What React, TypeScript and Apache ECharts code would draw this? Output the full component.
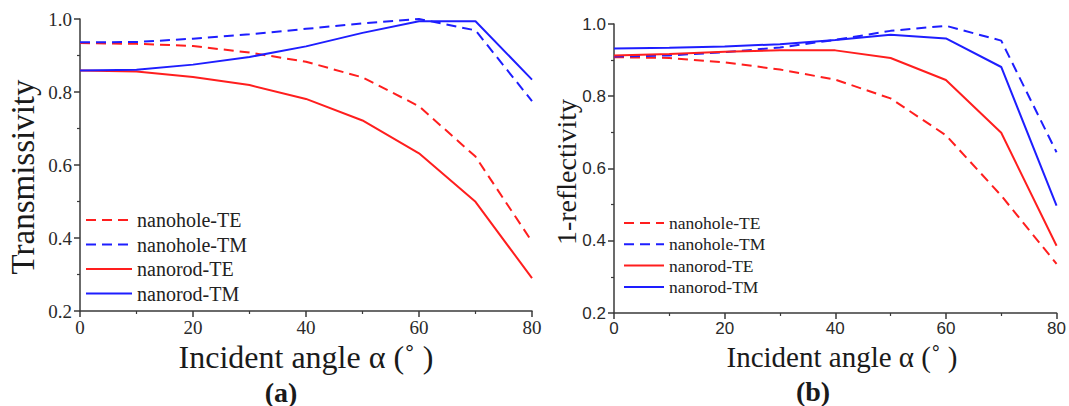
import React, { useEffect, useRef } from "react";
import * as echarts from "echarts";

const angles = [0, 10, 20, 30, 40, 50, 60, 70, 80];
const seriesNames = ["nanohole-TE", "nanohole-TM", "nanorod-TE", "nanorod-TM"];

// (a) Transmissivity
const aHoleTE = [0.934, 0.932, 0.926, 0.908, 0.883, 0.84, 0.761, 0.623, 0.39];
const aHoleTM = [0.936, 0.937, 0.946, 0.958, 0.973, 0.988, 1.0, 0.969, 0.775];
const aRodTE = [0.859, 0.856, 0.841, 0.819, 0.781, 0.722, 0.632, 0.499, 0.29];
const aRodTM = [0.859, 0.861, 0.875, 0.896, 0.925, 0.962, 0.994, 0.994, 0.834];

// (b) 1-reflectivity
const bHoleTE = [0.908, 0.906, 0.894, 0.874, 0.846, 0.794, 0.692, 0.525, 0.336];
const bHoleTM = [0.91, 0.913, 0.922, 0.935, 0.956, 0.981, 0.995, 0.954, 0.645];
const bRodTE = [0.913, 0.917, 0.923, 0.927, 0.927, 0.906, 0.845, 0.699, 0.386];
const bRodTM = [0.932, 0.934, 0.938, 0.944, 0.956, 0.97, 0.96, 0.881, 0.497];

const xTicks = [0, 20, 40, 60, 80];
const yTicks = [0.2, 0.4, 0.6, 0.8, 1.0];

const RED = "#ff1e1e";
const BLUE = "#1e1eff";
const AXIS = "#3a3a3a";
const SERIF = "'Liberation Serif', 'Times New Roman', serif";
const SANS = "'Liberation Sans', Arial, sans-serif";

export default function App() {
  const ref = useRef<HTMLDivElement>(null);
  useEffect(() => {
    if (!ref.current) return;
    const chart = echarts.init(ref.current, undefined, { renderer: "svg" });

    const pair = (vals: number[]) => angles.map((a, i) => [a, vals[i]]);
    const styles = [
      { color: RED, type: [10, 6] as any },
      { color: BLUE, type: [10, 6] as any },
      { color: RED, type: "solid" as any },
      { color: BLUE, type: "solid" as any },
    ];
    const mk = (name: string, vals: number[], k: number, g: number) => ({
      name,
      type: "line",
      xAxisIndex: g,
      yAxisIndex: g,
      data: pair(vals),
      symbol: "none",
      showSymbol: false,
      color: styles[k].color,
      itemStyle: { color: styles[k].color, opacity: 0 },
      lineStyle: { color: styles[k].color, width: 2, type: styles[k].type, opacity: 1 },
    });

    const xAxisBase = (g: number, font: string, size: number) => ({
      gridIndex: g,
      type: "value",
      min: 0,
      max: 80,
      interval: 20,
      splitLine: { show: false },
      axisLine: { show: true, onZero: false, lineStyle: { color: AXIS, width: 1.5 } },
      axisTick: { show: true, length: 6, inside: false, lineStyle: { color: AXIS, width: 1.5 } },
      minorTick: { show: true, splitNumber: 2, length: 3, lineStyle: { color: AXIS, width: 1.2 } },
      axisLabel: {
        margin: 7,
        fontFamily: font,
        fontSize: size,
        color: "#2a2a2a",
        formatter: (v: number) => (xTicks.includes(v) ? String(v) : ""),
      },
    });
    const yAxisBase = (g: number, font: string, size: number) => ({
      gridIndex: g,
      type: "value",
      min: 0.2,
      max: 1.0,
      interval: 0.2,
      splitLine: { show: false },
      axisLine: { show: true, onZero: false, lineStyle: { color: AXIS, width: 1.5 } },
      axisTick: { show: true, length: 6, inside: false, lineStyle: { color: AXIS, width: 1.5 } },
      minorTick: { show: true, splitNumber: 2, length: 3, lineStyle: { color: AXIS, width: 1.2 } },
      axisLabel: {
        margin: 8,
        fontFamily: font,
        fontSize: size,
        color: "#2a2a2a",
        formatter: (v: number) => {
          const t = yTicks.find((y) => Math.abs(y - v) < 1e-6);
          return t !== undefined ? t.toFixed(1) : "";
        },
      },
    });

    const legendBase = (left: number, top: number, w: number, size: number, lh: number, gap: number) => ({
      orient: "vertical",
      left,
      top,
      itemWidth: w,
      itemHeight: 12,
      itemGap: gap,
      padding: 0,
      data: seriesNames,
      selectedMode: false,
      itemStyle: { opacity: 0, borderWidth: 0 },
      textStyle: { fontFamily: SERIF, fontSize: size, color: "#222", lineHeight: lh },
    });

    chart.setOption({
      animation: false,
      backgroundColor: "#ffffff",
      grid: [
        { left: 80, top: 19, width: 452, height: 292, containLabel: false },
        { left: 614, top: 24, width: 444, height: 289, containLabel: false },
      ],
      xAxis: [xAxisBase(0, SERIF, 19), xAxisBase(1, SANS, 17)],
      yAxis: [yAxisBase(0, SERIF, 19), yAxisBase(1, SANS, 17)],
      legend: [
        legendBase(85, 210, 46, 20, 20, 4.5),
        legendBase(623, 214, 40, 17.5, 18, 3.3),
      ],
      series: [
        mk(seriesNames[0], aHoleTE, 0, 0),
        mk(seriesNames[1], aHoleTM, 1, 0),
        mk(seriesNames[2], aRodTE, 2, 0),
        mk(seriesNames[3], aRodTM, 3, 0),
        mk(seriesNames[0], bHoleTE, 0, 1),
        mk(seriesNames[1], bHoleTM, 1, 1),
        mk(seriesNames[2], bRodTE, 2, 1),
        mk(seriesNames[3], bRodTM, 3, 1),
      ],
      graphic: [
        {
          type: "text",
          x: 23,
          y: 177,
          rotation: Math.PI / 2,
          style: {
            text: "Transmissivity",
            fontFamily: SERIF,
            fontSize: 33,
            fill: "#1a1a1a",
            textAlign: "center",
            textVerticalAlign: "middle",
          },
        },
        {
          type: "text",
          x: 566,
          y: 172,
          rotation: Math.PI / 2,
          style: {
            text: "1-reflectivity",
            fontFamily: SERIF,
            fontSize: 28,
            fill: "#1a1a1a",
            textAlign: "center",
            textVerticalAlign: "middle",
          },
        },
        {
          type: "text",
          x: 306,
          y: 357,
          style: {
            text: "Incident angle α (˚ )",
            fontFamily: SERIF,
            fontSize: 32,
            fill: "#1a1a1a",
            textAlign: "center",
            textVerticalAlign: "middle",
          },
        },
        {
          type: "text",
          x: 842,
          y: 357,
          style: {
            text: "Incident angle α (˚ )",
            fontFamily: SERIF,
            fontSize: 29,
            fill: "#1a1a1a",
            textAlign: "center",
            textVerticalAlign: "middle",
          },
        },
        {
          type: "text",
          x: 281,
          y: 392,
          style: {
            text: "(a)",
            fontFamily: SERIF,
            fontSize: 28,
            fontWeight: "bold",
            fill: "#1a1a1a",
            textAlign: "center",
            textVerticalAlign: "middle",
          },
        },
        {
          type: "text",
          x: 813,
          y: 391,
          style: {
            text: "(b)",
            fontFamily: SERIF,
            fontSize: 28,
            fontWeight: "bold",
            fill: "#1a1a1a",
            textAlign: "center",
            textVerticalAlign: "middle",
          },
        },
      ],
    });
    return () => chart.dispose();
  }, []);
  return (
    <div
      ref={ref}
      style={{ position: "fixed", left: 0, top: 0, width: 1069, height: 406, background: "#fff" }}
    />
  );
}
